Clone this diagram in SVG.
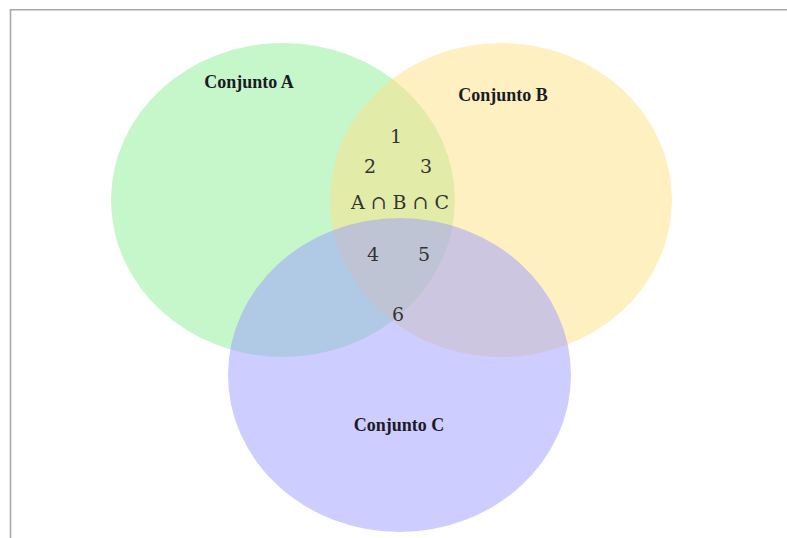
<svg xmlns="http://www.w3.org/2000/svg" width="787" height="538" viewBox="0 0 787 538">
<style>
.frame{stroke:#a8a8a8;stroke-width:1.6;fill:none}
.set{stroke:none;opacity:0.5}
.lbl{font-family:"Liberation Serif","Times New Roman",serif;font-weight:bold;font-size:18px;fill:#1b1b24;text-anchor:middle}
.num{font-family:"DejaVu Serif","Liberation Serif",serif;font-size:19px;fill:#333;text-anchor:middle}
</style>
<rect width="787" height="538" fill="#fff"/>
<path class="frame" d="M10.5,538 V9.8 H787"/>
<g id="setA"><ellipse class="set" cx="283" cy="200" rx="172" ry="157" fill="#8cef98"/><text class="lbl" x="249" y="88">Conjunto A</text></g>
<g id="setB"><ellipse class="set" cx="501" cy="200" rx="171" ry="157" fill="#ffe185"/><text class="lbl" x="503" y="101">Conjunto B</text></g>
<g id="setC"><ellipse class="set" cx="399.5" cy="375" rx="171.5" ry="157" fill="#9c9cff"/><text class="lbl" x="399" y="431">Conjunto C</text></g>
<g id="regions">
<text class="num" x="396" y="143">1</text>
<text class="num" x="370" y="173">2</text>
<text class="num" x="426" y="173">3</text>
<text class="num" x="400" y="209">A ∩ B ∩ C</text>
<text class="num" x="373" y="261">4</text>
<text class="num" x="424" y="261">5</text>
<text class="num" x="398" y="321">6</text>
</g>
<g id="connectors"/>
</svg>
